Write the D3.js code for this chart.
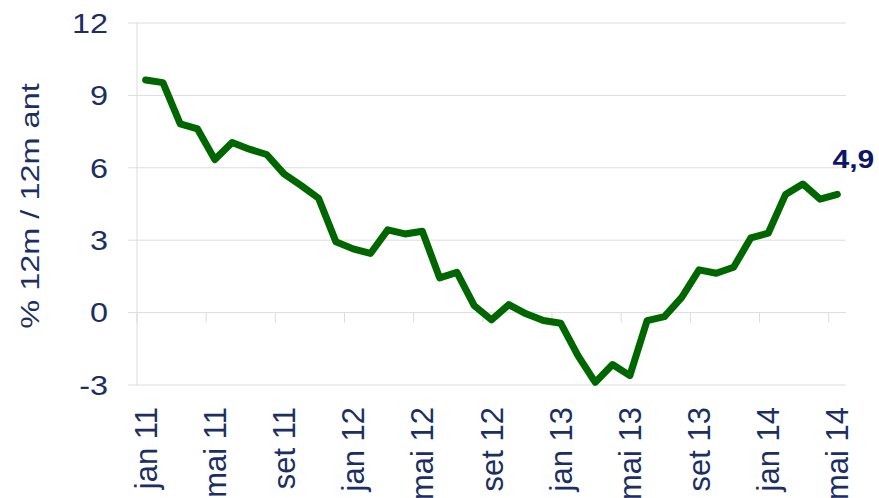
<!DOCTYPE html>
<html>
<head>
<meta charset="utf-8">
<script src="https://cdn.jsdelivr.net/npm/d3@7"></script>
<style>
  body { margin: 0; background: #fff; }
  text { font-family: "Liberation Sans", Arial, sans-serif; }
</style>
</head>
<body>
<div id="chart"></div>
<script>
const months = ["jan","fev","mar","abr","mai","jun","jul","ago","set","out","nov","dez"];
const years = ["11","12","13","14"];
const categories = [];
years.forEach(y => months.forEach(m => categories.push(m + " " + y)));
categories.splice(41);

const values = [
  9.64, 9.53, 7.82, 7.61, 6.34, 7.05, 6.77, 6.55, 5.75, 5.26, 4.74, 2.94,
  2.64, 2.45, 3.43, 3.26, 3.37, 1.44, 1.67, 0.29, -0.30, 0.33, -0.05, -0.33,
  -0.44, -1.78, -2.89, -2.15, -2.61, -0.33, -0.17, 0.63, 1.77, 1.63, 1.88, 3.10,
  3.29, 4.89, 5.33, 4.70, 4.90
];
const yTicks = [-3, 0, 3, 6, 9, 12];
const lastLabel = "4,9";

const width = 879, height = 498;
const margin = {top: 23, right: 33, bottom: 113, left: 137};
const navy = "#1b2f63";

const svg = d3.select("#chart").append("svg")
  .attr("width", width).attr("height", height);

const x = d3.scaleBand()
  .domain(categories)
  .range([margin.left, width - margin.right]);

const y = d3.scaleLinear()
  .domain([-3, 12])
  .range([height - margin.bottom, margin.top]);

// gridlines
svg.append("g")
  .selectAll("line")
  .data(yTicks)
  .join("line")
    .attr("x1", margin.left - 9)
    .attr("x2", width - margin.right)
    .attr("y1", d => y(d))
    .attr("y2", d => y(d))
    .attr("stroke", "#dcdcdc")
    .attr("stroke-width", 1);

// y axis line
svg.append("line")
  .attr("x1", margin.left).attr("x2", margin.left)
  .attr("y1", y(12)).attr("y2", y(-3))
  .attr("stroke", "#dcdcdc");

// y tick labels (slightly widened like the original)
svg.append("g")
  .selectAll("text")
  .data(yTicks)
  .join("text")
    .attr("transform", d => `translate(108,${y(d)}) scale(1.2,1)`)
    .attr("dy", "0.36em")
    .attr("text-anchor", "end")
    .attr("fill", navy)
    .attr("font-size", 27)
    .text(d => d);

// x ticks at y = 0, every 4 months
const tickIdx = d3.range(0, categories.length + 1, 4);
svg.append("g")
  .selectAll("line")
  .data(tickIdx)
  .join("line")
    .attr("x1", i => margin.left + i * x.step())
    .attr("x2", i => margin.left + i * x.step())
    .attr("y1", y(0))
    .attr("y2", y(0) + 10)
    .attr("stroke", "#dcdcdc");

// x labels
svg.append("g")
  .selectAll("text")
  .data(categories.filter((d, i) => i % 4 === 0))
  .join("text")
    .attr("transform", d => `translate(${x(d) + x.bandwidth() / 2 + 11},407) rotate(-90)`)
    .attr("text-anchor", "end")
    .attr("fill", navy)
    .attr("font-size", 31)
    .text(d => d);

// y title
svg.append("text")
  .attr("transform", `translate(39,${(y(12) + y(-3)) / 2 + 2}) rotate(-90) scale(1,0.82)`)
  .attr("text-anchor", "middle")
  .attr("fill", navy)
  .attr("font-size", 32.5)
  .text("% 12m / 12m ant");

// line
const line = d3.line()
  .x((d, i) => x(categories[i]) + x.bandwidth() / 2)
  .y(d => y(d));

svg.append("path")
  .datum(values)
  .attr("d", line)
  .attr("fill", "none")
  .attr("stroke", "#006600")
  .attr("stroke-width", 7)
  .attr("stroke-linejoin", "round")
  .attr("stroke-linecap", "round");

// last value label
const lastCat = categories[categories.length - 1];
svg.append("text")
  .attr("transform", `translate(${x(lastCat) + x.bandwidth() / 2 + 16},${y(values[values.length - 1]) - 26}) scale(1.2,1)`)
  .attr("text-anchor", "middle")
  .attr("fill", "#0d1566")
  .attr("font-size", 25)
  .attr("font-weight", "bold")
  .text(lastLabel);
</script>
</body>
</html>
